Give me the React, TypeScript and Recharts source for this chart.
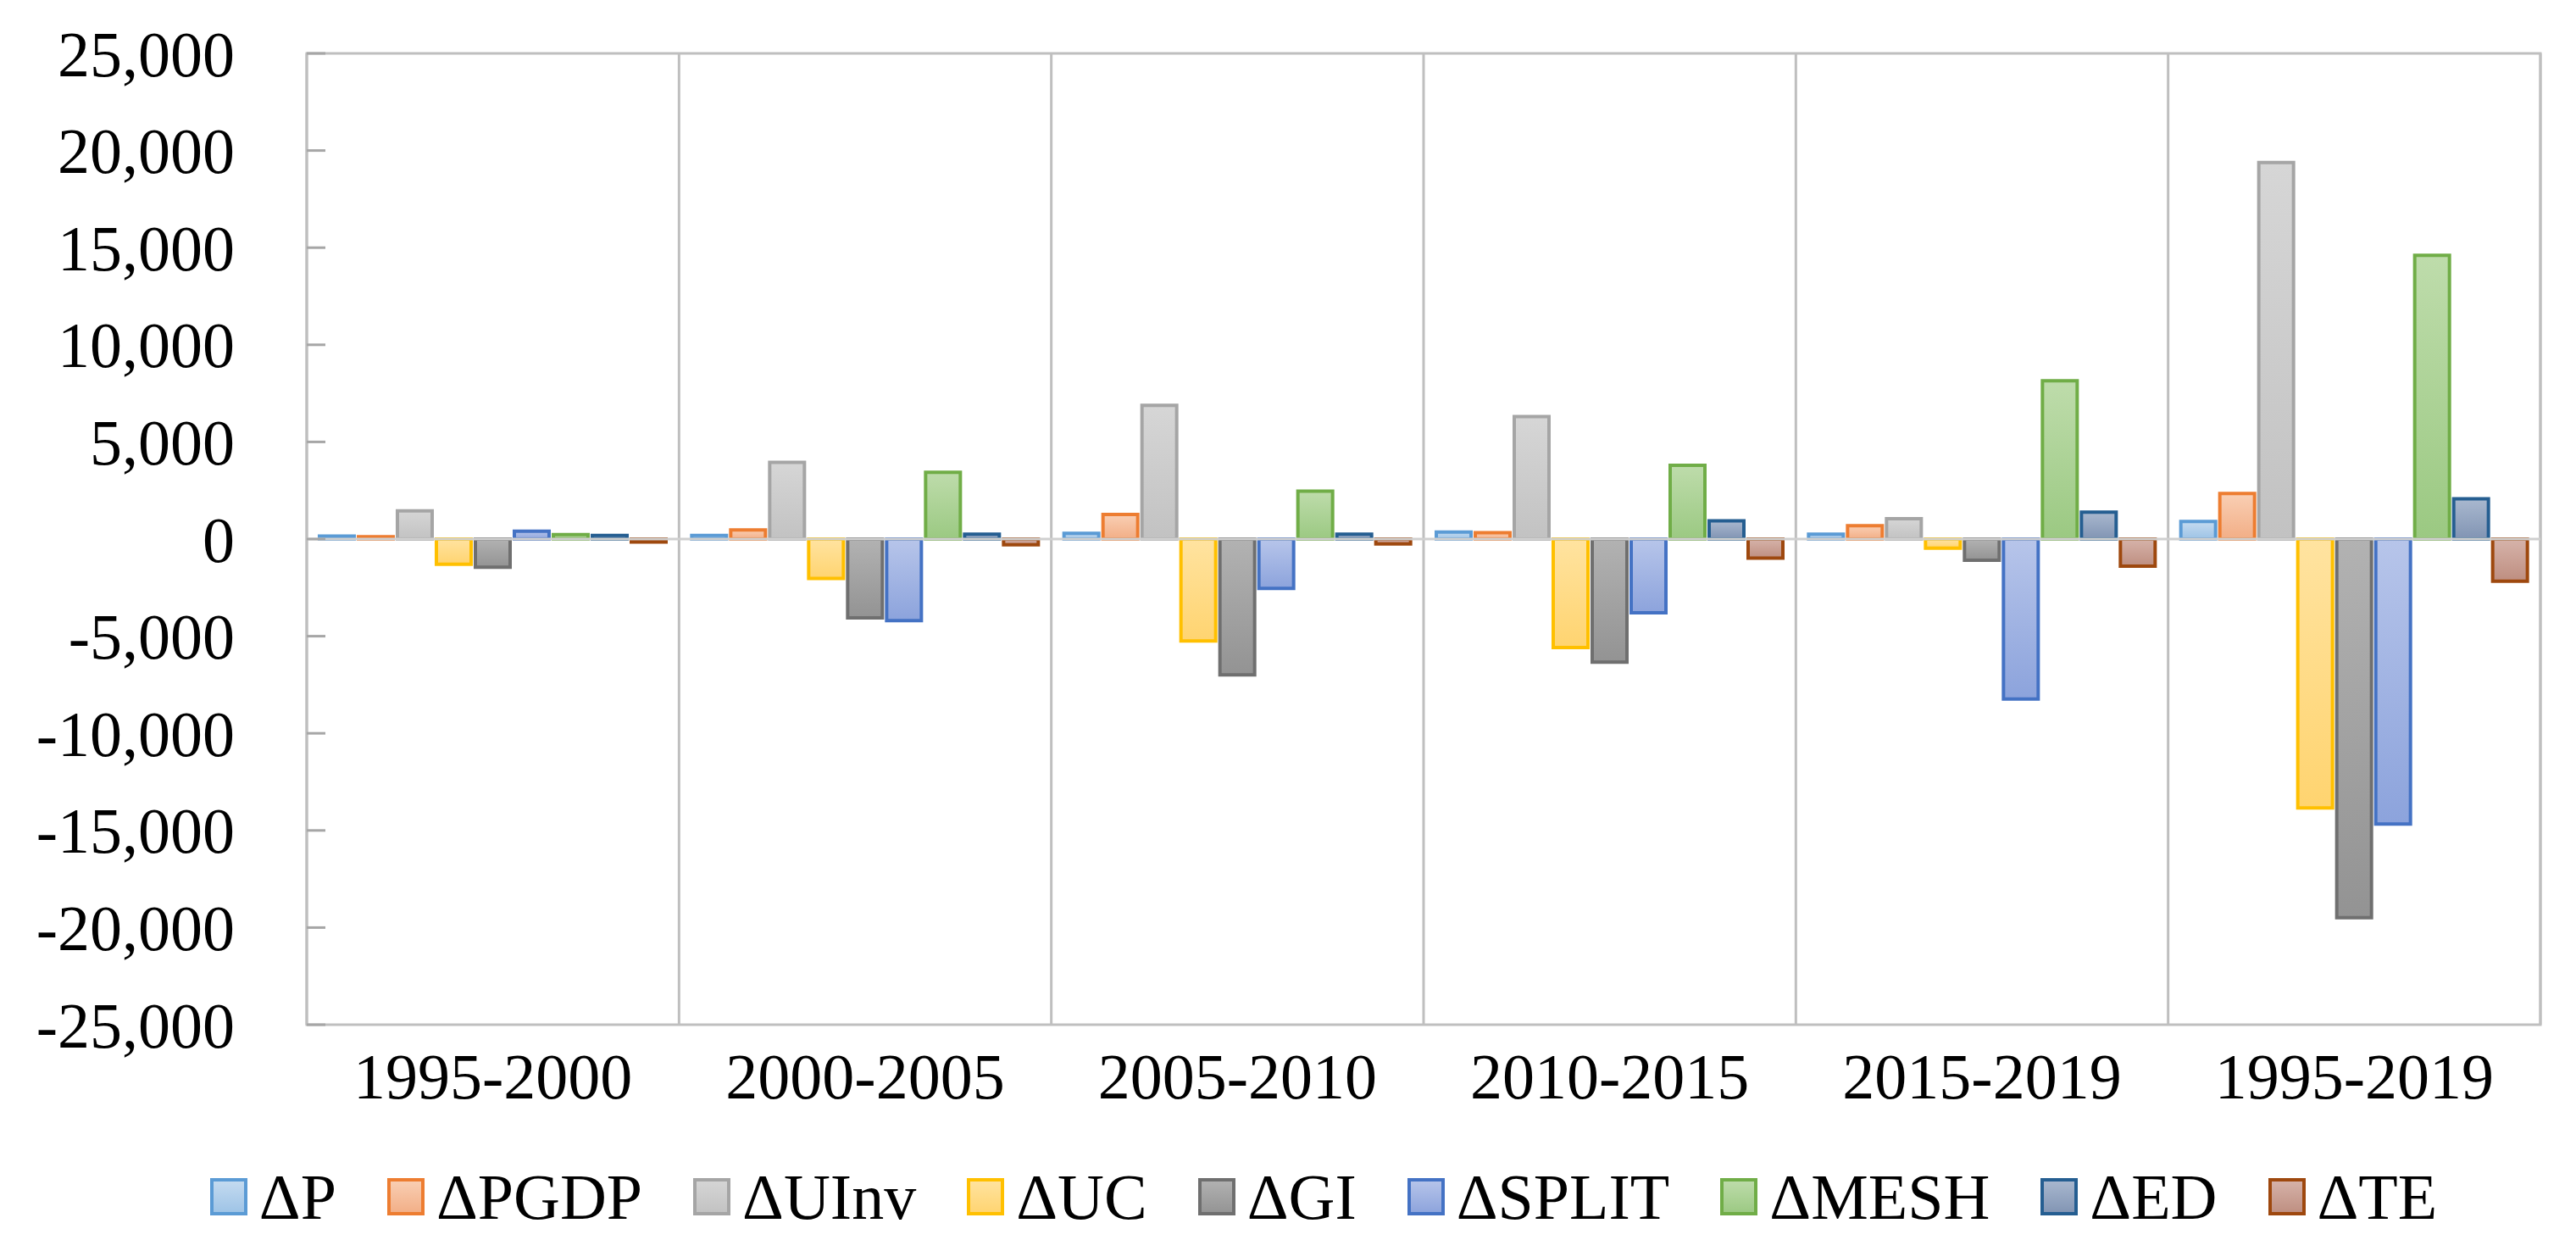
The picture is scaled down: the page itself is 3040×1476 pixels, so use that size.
import React from "react";
import {
  BarChart,
  Bar,
  XAxis,
  YAxis,
  CartesianGrid,
  Legend,
  ReferenceLine,
  ReferenceArea,
} from "recharts";

const periods = ["1995-2000", "2000-2005", "2005-2010", "2010-2015", "2015-2019", "1995-2019"];

// decomposition effects per period
const dP = [150, 180, 290, 360, 250, 900];
const dPGDP = [120, 470, 1270, 330, 690, 2350];
const dUInv = [1450, 3950, 6880, 6300, 1050, 19380];
const dUC = [-1300, -2030, -5250, -5580, -470, -13840];
const dGI = [-1450, -4060, -6990, -6340, -1090, -19490];
const dSPLIT = [400, -4200, -2540, -3800, -8230, -14670];
const dMESH = [230, 3440, 2460, 3800, 8150, 14600];
const dED = [180, 250, 250, 940, 1380, 2070];
const dTE = [-150, -290, -250, -980, -1400, -2170];

const yTicks = [-25000, -20000, -15000, -10000, -5000, 0, 5000, 10000, 15000, 20000, 25000];

const series = [
  { key: "dP", name: "ΔP", values: dP, stroke: "#5B9BD5", top: "#C5DBF0", bottom: "#9DC3E6" },
  { key: "dPGDP", name: "ΔPGDP", values: dPGDP, stroke: "#ED7D31", top: "#F9CFB4", bottom: "#F2AE86" },
  { key: "dUInv", name: "ΔUInv", values: dUInv, stroke: "#A5A5A5", top: "#D6D6D6", bottom: "#C2C2C2" },
  { key: "dUC", name: "ΔUC", values: dUC, stroke: "#FFC000", top: "#FFE3A0", bottom: "#FFD470" },
  { key: "dGI", name: "ΔGI", values: dGI, stroke: "#6F6F6F", top: "#B2B2B2", bottom: "#939393" },
  { key: "dSPLIT", name: "ΔSPLIT", values: dSPLIT, stroke: "#4472C4", top: "#B7C5EA", bottom: "#8CA3DC" },
  { key: "dMESH", name: "ΔMESH", values: dMESH, stroke: "#70AD47", top: "#BEDCAB", bottom: "#9BC982" },
  { key: "dED", name: "ΔED", values: dED, stroke: "#255E91", top: "#A9B8CF", bottom: "#8194B3" },
  { key: "dTE", name: "ΔTE", values: dTE, stroke: "#9E480E", top: "#D6B3AA", bottom: "#BE8E80" },
];

const rows = periods.map((period, i) => {
  const row: any = { period };
  series.forEach((s) => {
    row[s.key] = s.values[i];
  });
  return row;
});

const FONT = "'Liberation Serif', 'Times New Roman', serif";

function YTick(props: any) {
  const { x, y, payload } = props;
  return (
    <g>
      <text x={x} y={y} dy="0.35em" textAnchor="end" fontFamily={FONT} fontSize={76} fill="#000">
        {Number(payload.value).toLocaleString("en-US")}
      </text>
      <line x1={x + 85} x2={x + 107} y1={y} y2={y} stroke="#A6A6A6" strokeWidth={3} />
    </g>
  );
}

// keep the legend in series order (recharts sorts it by name otherwise)
function LegendBox() {
  return (
    <div
      style={{
        height: 128,
        display: "flex",
        alignItems: "center",
        justifyContent: "center",
        paddingLeft: 126,
        boxSizing: "border-box",
      }}
    >
      {series.map((s, i) => (
        <div
          key={s.key}
          style={{ display: "flex", alignItems: "center", marginRight: i < series.length - 1 ? 60 : 0 }}
        >
          <svg width={44} height={44} style={{ marginRight: 14 }}>
            <rect x={2} y={2} width={40} height={40} fill={`url(#grad-${s.key})`} stroke={s.stroke} strokeWidth={4} />
          </svg>
          <span style={{ fontFamily: FONT, fontSize: 76, color: "#000", lineHeight: 1 }}>{s.name}</span>
        </div>
      ))}
    </div>
  );
}

export default function App() {
  return (
    <div style={{ position: "absolute", left: 0, top: 0, background: "#fff" }}>
      <svg width={0} height={0} style={{ position: "absolute" }}>
        <defs>
          {series.map((s) => (
            <linearGradient key={s.key} id={`grad-${s.key}`} x1="0" y1="0" x2="0" y2="1">
              <stop offset="0%" stopColor={s.top} />
              <stop offset="100%" stopColor={s.bottom} />
            </linearGradient>
          ))}
        </defs>
      </svg>
      <BarChart
        width={3040}
        height={1476}
        data={rows}
        margin={{ top: 63, right: 42, left: 0, bottom: 0 }}
        barCategoryGap={15}
        barGap={5}
      >
        <CartesianGrid
          horizontal={false}
          stroke="#BFBFBF"
          strokeWidth={3}
          verticalCoordinatesGenerator={({ offset, width }: any) => {
            const w = offset.width ?? width - offset.left - offset.right;
            return periods.map((_, i) => offset.left + (i * w) / periods.length).concat(offset.left + w);
          }}
        />
        <ReferenceArea y1={-25000} y2={25000} fill="none" fillOpacity={0} stroke="#BFBFBF" strokeWidth={3} />
        <XAxis
          dataKey="period"
          height={139}
          axisLine={false}
          tickLine={false}
          tickSize={0}
          tickMargin={33}
          interval={0}
          tick={{ fontFamily: FONT, fontSize: 76, fill: "#000" }}
        />
        <YAxis
          width={362}
          domain={[-25000, 25000]}
          ticks={yTicks}
          interval={0}
          axisLine={false}
          tickLine={false}
          tickSize={0}
          tickMargin={85}
          tick={<YTick />}
        />
        <ReferenceLine y={0} stroke="#D0D0D0" strokeWidth={3} />
        {series.map((s) => (
          <Bar
            key={s.key}
            dataKey={s.key}
            name={s.name}
            fill={`url(#grad-${s.key})`}
            stroke={s.stroke}
            strokeWidth={4}
            isAnimationActive={false}
          />
        ))}
        <Legend verticalAlign="bottom" content={<LegendBox />} />
      </BarChart>
    </div>
  );
}
